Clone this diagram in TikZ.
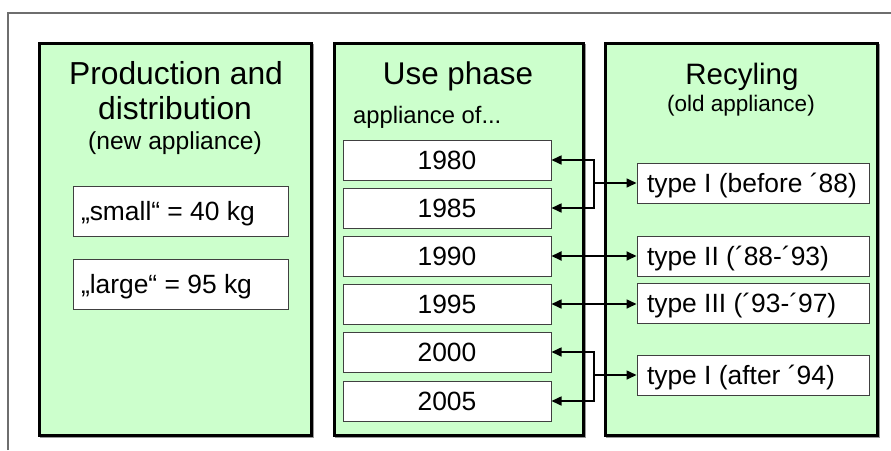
\documentclass[tikz,border=0pt]{standalone}
\usepackage{fontspec}
\setmainfont{Liberation Sans}
\usetikzlibrary{arrows.meta}
\definecolor{panelgreen}{HTML}{CCFFCC}
\definecolor{framegray}{HTML}{6E6E6E}
\newcommand{\lft}[2]{\makebox[#1][l]{#2}}
\begin{document}
\begin{tikzpicture}[x=1pt,y=-1pt,
  panel/.style={draw=black,line width=3pt,fill=panelgreen,inner sep=0pt},
  pshadow/.style={draw=black!40,line width=1.5pt,inner sep=0pt},
  title/.style={anchor=base,inner sep=0pt,font=\fontsize{31.8}{36}\selectfont},
  sub/.style={anchor=base,inner sep=0pt,font=\fontsize{24.6}{28}\selectfont},
  boxbase/.style={draw=black!75,line width=1pt,fill=white,inner sep=0pt,
    text height=18.5pt,text depth=0pt,minimum height=40pt,font=\fontsize{26.4}{30}\selectfont},
  ybox/.style={boxbase,minimum width=208pt},
  rbox/.style={boxbase,minimum width=232pt},
  lbox/.style={boxbase,minimum width=215pt,minimum height=50pt},
  conn/.style={line width=1.6pt,draw=black},
  tip/.style={-{Triangle[length=10pt,width=9pt]}},
  tips/.style={{Triangle[length=10pt,width=9pt]}-{Triangle[length=10pt,width=9pt]}}
]
\useasboundingbox (0,0) rectangle (891,450);
\fill[white] (0,0) rectangle (891,450);
% outer frame
\draw[framegray,line width=1.5pt] (8,450) -- (8,13) -- (891,13);

% panels
\node[pshadow,minimum width=272pt,minimum height=392pt] (pls) at (177,241) {};
\node[pshadow,minimum width=249pt,minimum height=392pt] (pms) at (460.5,241) {};
\node[pshadow,minimum width=272pt,minimum height=392pt] (prs) at (743,241) {};
\node[panel,minimum width=272pt,minimum height=392pt] (pl) at (175,239) {};
\node[panel,minimum width=249pt,minimum height=392pt] (pm) at (458.5,239) {};
\node[panel,minimum width=272pt,minimum height=392pt] (pr) at (741,239) {};

% left panel
\node[title] (t1a) at (176,84) {Production and};
\node[title] (t1b) at (175,119) {distribution};
\node[sub] (t1c) at (175,149) {(new appliance)};
\node[lbox] (small) at (180.5,211) {\lft{199pt}{„small“ = 40 kg}};
\node[lbox] (large) at (180.5,284) {\lft{199pt}{„large“ = 95 kg}};

% middle panel
\node[title,font=\fontsize{31.4}{36}\selectfont] (t2a) at (458,84) {Use phase};
\node[anchor=base west,inner sep=0pt,font=\fontsize{23.8}{28}\selectfont] (t2b) at (353,123) {appliance of...};
\node[ybox] (y1980) at (447,160) {1980};
\node[ybox] (y1985) at (447,208) {1985};
\node[ybox] (y1990) at (447,256) {1990};
\node[ybox] (y1995) at (447,304) {1995};
\node[ybox] (y2000) at (447,352) {2000};
\node[ybox] (y2005) at (447,401) {2005};

% right panel
\node[title,font=\fontsize{29.5}{33}\selectfont] (t3a) at (742,84) {Recyling};
\node[sub,font=\fontsize{22.5}{26}\selectfont] (t3b) at (741,111) {(old appliance)};
\node[rbox] (r1) at (753,183) {\lft{212pt}{type I (before ´88)}};
\node[rbox] (r2) at (753,256) {\lft{212pt}{type II (´88-´93)}};
\node[rbox] (r3) at (753,303) {\lft{212pt}{type III (´93-´97)}};
\node[rbox] (r4) at (753,375) {\lft{212pt}{type I (after ´94)}};

% connectors
\coordinate (b1) at (594,183);
\coordinate (b2) at (594,375);
\draw[conn,tip] (b1) |- (y1980.east);
\draw[conn,tip] (b1) |- (y1985.east);
\draw[conn,tip] (b1) -- (r1.west);
\draw[conn,tips,line width=2pt] (y1990.east) -- (r2.west);
\draw[conn,tips] (y1995.east) -- (y1995.east -| r3.west);
\draw[conn,tip] (b2) |- (y2000.east);
\draw[conn,tip] (b2) |- (y2005.east);
\draw[conn,tip] (b2) -- (r4.west);
\end{tikzpicture}
\end{document}
